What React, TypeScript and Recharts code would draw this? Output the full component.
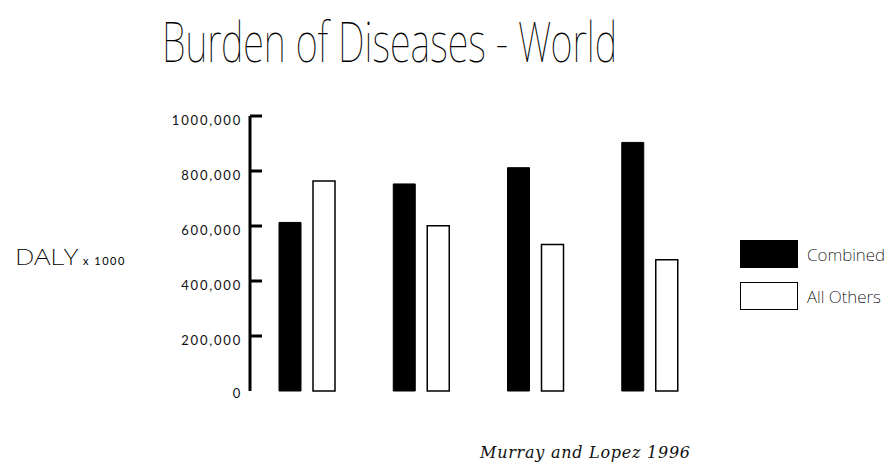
import React from 'react';
import { BarChart, Bar, XAxis, YAxis, Legend } from 'recharts';

const categories = ['1990', '2000', '2010', '2020'];
const combinedValues = [613000, 753000, 812000, 904000];
const allOthersValues = [764000, 601000, 533000, 477000];
const yTicks = [0, 200000, 400000, 600000, 800000, 1000000];
const yTickLabels = ['0', '200,000', '400,000', '600,000', '800,000', '1000,000'];
const seriesNames = ['Combined', 'All Others'];
const seriesFills = ['#000000', '#ffffff'];
const titleText = 'Burden of Diseases - World';
const yTitle = 'DALY';
const yTitleUnit = 'x 1000';
const sourceText = 'Murray and Lopez 1996';

const data = categories.map((c, i) => ({
  category: c,
  combined: combinedValues[i],
  allOthers: allOthersValues[i],
}));

const thinFont = '"Noto Sans", Roboto, sans-serif';
const tickFont = 'Lato, "Noto Sans", sans-serif';

const YTick = (props: any) => {
  const { x, y, payload } = props;
  const idx = yTicks.indexOf(payload.value);
  const label = idx >= 0 ? yTickLabels[idx] : String(payload.value);
  return (
    <g>
      {payload.value !== 0 && (
        <line x1={x + 8} x2={x + 20} y1={y} y2={y} stroke="#000" strokeWidth={3} />
      )}
      <text
        x={x}
        y={y}
        dy={payload.value === 0 ? 7 : 9}
        textAnchor="end"
        fontFamily={tickFont}
        fontSize={13}
        fontWeight={400}
        letterSpacing={1.8}
        fill="#111"
      >
        {label}
      </text>
    </g>
  );
};

const LegendContent = (props: any) => {
  const payload = [...(props.payload || [])].sort(
    (a: any, b: any) => seriesNames.indexOf(a.value) - seriesNames.indexOf(b.value)
  );
  return (
    <div style={{ display: 'flex', flexDirection: 'column', gap: 14, width: 156 }}>
      {payload.map((entry: any, i: number) => (
        <div key={i} style={{ display: 'flex', alignItems: 'center', height: 28 }}>
          <div
            style={{
              width: 58,
              height: 28,
              boxSizing: 'border-box',
              background: entry.color,
              border: '1.5px solid #000',
              flex: 'none',
            }}
          />
          <span
            style={{
              marginLeft: 9,
              fontFamily: thinFont,
              fontWeight: 200,
              fontStretch: 'condensed',
              fontSize: 17,
              color: '#000',
              whiteSpace: 'nowrap',
            }}
          >
            {entry.value}
          </span>
        </div>
      ))}
    </div>
  );
};

export default function App() {
  return (
    <div style={{ position: 'absolute', left: 0, top: 0, width: 896, height: 468, background: '#fff' }}>
      <svg
        width={896}
        height={468}
        style={{ position: 'absolute', left: 0, top: 0, pointerEvents: 'none' }}
      >
        <text
          x={162}
          y={62}
          fontFamily={thinFont}
          fontWeight={100}
          fontSize={56}
          textLength={455}
          lengthAdjust="spacingAndGlyphs"
          fill="#000"
        >
          {titleText}
        </text>
        <text x={15} y={265} fontFamily={thinFont} fontWeight={200} fontSize={22} textLength={63} lengthAdjust="spacingAndGlyphs" fill="#000">
          {yTitle}
        </text>
        <text x={83} y={265} fontFamily={tickFont} fontWeight={400} fontSize={11} letterSpacing={1.5} fill="#000">
          {yTitleUnit}
        </text>
        <text x={480} y={458} fontFamily='"DejaVu Serif", serif' fontStyle="italic" fontSize={16} textLength={210} fill="#111">
          {sourceText}
        </text>
      </svg>
      <div style={{ position: 'absolute', left: 0, top: 0 }}>
        <BarChart
          width={896}
          height={468}
          data={data}
          margin={{ top: 116, right: 189, bottom: 77, left: 170 }}
          barSize={22}
          barGap={12}
        >
          <XAxis
            dataKey="category"
            height={0}
            tick={false}
            tickLine={false}
            axisLine={{ stroke: '#000', strokeWidth: 3 }}
          />
          <YAxis
            width={80}
            domain={[0, 1000000]}
            ticks={yTicks}
            interval={0}
            tickSize={0}
            tickMargin={8}
            tick={<YTick />}
            tickLine={false}
            axisLine={{ stroke: '#000', strokeWidth: 3 }}
          />
          <Legend
            layout="vertical"
            align="right"
            verticalAlign="middle"
            content={<LegendContent />}
            wrapperStyle={{ position: 'absolute', left: 740, top: 240, width: 0, height: 0, overflow: 'visible' }}
          />
          <Bar
            dataKey="combined"
            name={seriesNames[0]}
            fill={seriesFills[0]}
            stroke="#000"
            strokeWidth={1}
            isAnimationActive={false}
          />
          <Bar
            dataKey="allOthers"
            name={seriesNames[1]}
            fill={seriesFills[1]}
            stroke="#000"
            strokeWidth={1.5}
            isAnimationActive={false}
          />
        </BarChart>
      </div>
    </div>
  );
}
